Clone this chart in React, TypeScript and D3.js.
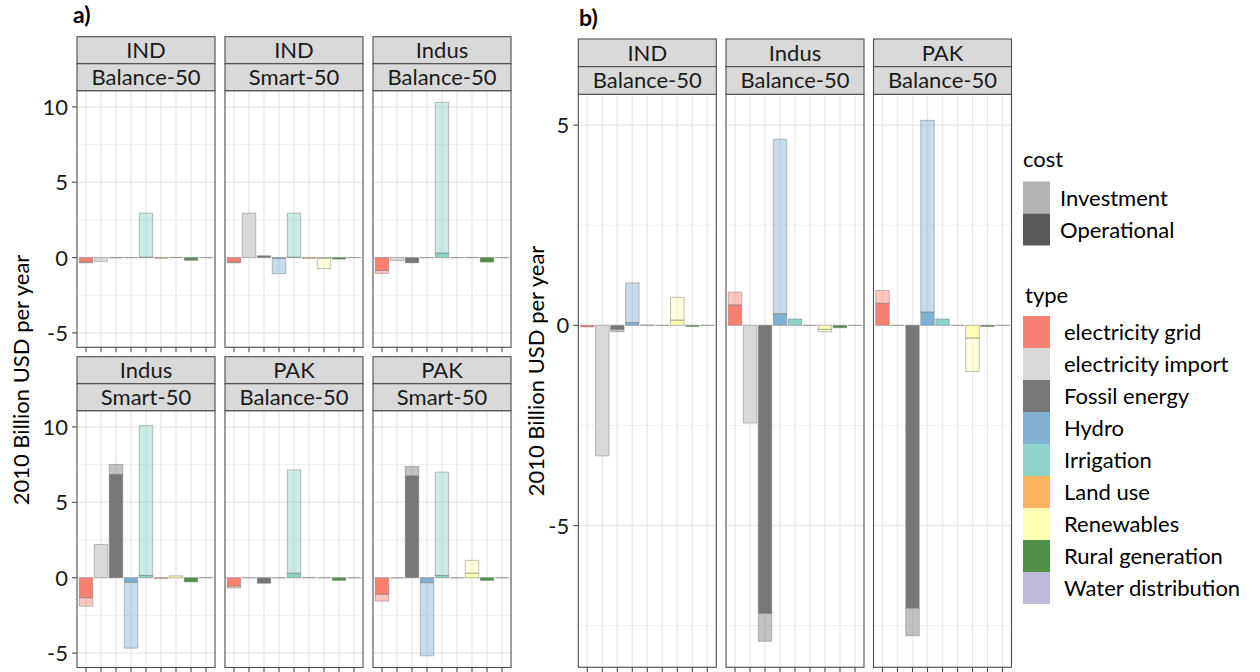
import React from "react";
import * as d3 from "d3";

const TYPES = ["electricity grid", "electricity import", "Fossil energy", "Hydro", "Irrigation", "Land use", "Renewables", "Rural generation", "Water distribution"];
const TYPE_COLORS = ["#FB8072", "#D9D9D9", "#777777", "#80B1D3", "#8DD3C7", "#FDB462", "#FFFFB3", "#4F9149", "#BEBADA"];
const COSTS = ["Investment", "Operational"];
const COST_ALPHA = [0.45, 1];

// Panel a facets
const A_REGIONS = ["IND", "IND", "Indus", "Indus", "PAK", "PAK"];
const A_SCENARIOS = ["Balance-50", "Smart-50", "Balance-50", "Smart-50", "Balance-50", "Smart-50"];
const A_OPERATIONAL = [
  [-0.30, -0.25, -0.02, 0, 0.02, -0.05, 0, -0.15, 0],
  [-0.30, 2.95, 0.12, -0.05, 0.02, -0.05, -0.05, -0.10, 0],
  [-0.85, -0.20, -0.35, 0, 0.30, 0, 0, -0.30, 0],
  [-1.33, 2.20, 6.85, -0.30, 0.15, -0.05, 0.12, -0.28, 0.02],
  [-0.55, 0, -0.37, 0, 0.30, 0.02, 0, -0.18, 0],
  [-1.10, -0.02, 6.75, -0.33, 0.15, 0, 0.30, -0.18, 0],
];
const A_INVESTMENT = [
  [-0.05, 0, 0, 0, 2.93, 0, 0, -0.03, 0],
  [-0.05, 0, 0, -1.02, 2.93, 0, -0.68, 0, 0],
  [-0.20, 0, 0, 0, 10.0, 0, 0, 0, 0],
  [-0.56, 0, 0.66, -4.37, 9.95, 0, 0, 0, 0],
  [-0.13, 0, 0, 0, 6.85, 0, 0, 0, 0],
  [-0.45, 0, 0.63, -4.85, 6.85, 0, 0.85, 0, 0],
];
const A_TICKS = [-5, 0, 5, 10];

// Panel b facets
const B_REGIONS = ["IND", "Indus", "PAK"];
const B_SCENARIOS = ["Balance-50", "Balance-50", "Balance-50"];
const B_OPERATIONAL = [
  [-0.04, -3.26, -0.10, 0.07, 0.01, 0, 0.13, -0.03, 0],
  [0.51, -2.44, -7.19, 0.29, 0.16, 0, -0.10, -0.06, 0],
  [0.55, 0, -7.06, 0.33, 0.16, 0, -0.32, -0.03, 0],
];
const B_INVESTMENT = [
  [0, 0, -0.06, 0.99, 0, 0, 0.57, 0, 0],
  [0.32, 0, -0.70, 4.36, 0, 0, -0.06, 0, 0],
  [0.32, 0, -0.69, 4.79, 0, 0, -0.83, 0, 0],
];
const B_TICKS = [-5, 0, 5];

const FONT = "Lato, 'Open Sans', sans-serif";
const TEXT = "#1a1a1a";
const BORDER = "#4d4d4d";
const GRID = "#ebebeb";

type Seg = { type: number; cost: number; y0: number; y1: number };

function stack(op: number[], inv: number[]): Seg[] {
  const segs: Seg[] = [];
  TYPES.forEach((_, i) => {
    let pos = 0, neg = 0;
    [[1, op[i]], [0, inv[i]]].forEach(([c, v]) => {
      if (v === 0 && c === 0) return;
      if (v >= 0) { segs.push({ type: i, cost: c, y0: pos, y1: pos + v }); pos += v; }
      else { segs.push({ type: i, cost: c, y0: neg, y1: neg + v }); neg += v; }
    });
  });
  return segs;
}

function domainOf(ops: number[][], invs: number[][]): [number, number] {
  let lo = 0, hi = 0;
  ops.forEach((op, f) => {
    stack(op, invs[f]).forEach(s => { lo = Math.min(lo, s.y0, s.y1); hi = Math.max(hi, s.y0, s.y1); });
  });
  const e = (hi - lo) * 0.05;
  return [lo - e, hi + e];
}

type FacetProps = {
  x: number; top: number; w: number; stripH: number; plotBottom: number;
  region: string; scenario: string; op: number[]; inv: number[];
  domain: [number, number]; ticks: number[]; showY: boolean;
};

function Facet({ x, top, w, stripH, plotBottom, region, scenario, op, inv, domain, ticks, showY }: FacetProps) {
  const plotTop = top + 2 * stripH;
  const xs = d3.scalePoint<string>().domain(TYPES).range([x, x + w]).padding(0.6);
  const step = xs.step();
  const ys = d3.scaleLinear().domain(domain).range([plotBottom, plotTop]);
  const minor = ticks.slice(0, -1).map((t, i) => (t + ticks[i + 1]) / 2);
  const lo = domain[0], hi = domain[1];
  if (ticks[0] - 2.5 > lo) minor.unshift(ticks[0] - 2.5);
  if (ticks[ticks.length - 1] + 2.5 < hi) minor.push(ticks[ticks.length - 1] + 2.5);
  const segs = stack(op, inv);
  const bw = step * 0.9;
  return (
    <g>
      <rect x={x} y={plotTop} width={w} height={plotBottom - plotTop} fill="#fff" />
      {minor.map(t => (
        <line key={"mn" + t} x1={x} x2={x + w} y1={ys(t)} y2={ys(t)} stroke={GRID} strokeWidth={0.8} />
      ))}
      {ticks.map(t => (
        <line key={"mj" + t} x1={x} x2={x + w} y1={ys(t)} y2={ys(t)} stroke={GRID} strokeWidth={1.5} />
      ))}
      {TYPES.map(t => (
        <line key={"vx" + t} x1={xs(t)} x2={xs(t)} y1={plotTop} y2={plotBottom} stroke={GRID} strokeWidth={1.5} />
      ))}
      {segs.map((s, i) => {
        const cx = xs(TYPES[s.type])!;
        const ya = ys(s.y0), yb = ys(s.y1);
        const yTop = Math.min(ya, yb), h = Math.abs(yb - ya);
        return (
          <path key={"b" + i}
            d={`M${cx - bw / 2},${yTop}h${bw}v${h}h${-bw}Z`}
            fill={TYPE_COLORS[s.type]} fillOpacity={COST_ALPHA[s.cost]}
            stroke="#7a7a7a" strokeOpacity={0.6} strokeWidth={0.8} />
        );
      })}
      <rect x={x} y={plotTop} width={w} height={plotBottom - plotTop} fill="none" stroke={BORDER} strokeWidth={1.1} />
      {[0, 1].map(k => (
        <g key={"s" + k}>
          <rect x={x} y={top + k * stripH} width={w} height={stripH} fill="#d9d9d9" stroke={BORDER} strokeWidth={1.1} />
          <text x={x + w / 2} y={top + k * stripH + stripH / 2 + 8} textAnchor="middle"
            fontFamily={FONT} fontSize={22} fill={TEXT}>{k === 0 ? region : scenario}</text>
        </g>
      ))}
      {TYPES.map(t => (
        <line key={"xt" + t} x1={xs(t)} x2={xs(t)} y1={plotBottom} y2={plotBottom + 5} stroke={BORDER} strokeWidth={1.1} />
      ))}
      {showY && ticks.map(t => (
        <g key={"yt" + t}>
          <line x1={x - 5} x2={x} y1={ys(t)} y2={ys(t)} stroke={BORDER} strokeWidth={1.1} />
          <text x={x - 9} y={ys(t) + 8} textAnchor="end" fontFamily={FONT} fontSize={22} fill={TEXT}>{t}</text>
        </g>
      ))}
    </g>
  );
}

export default function App() {
  const aDomain = domainOf(A_OPERATIONAL, A_INVESTMENT);
  const bDomain = domainOf(B_OPERATIONAL, B_INVESTMENT);
  const aCols = [77, 225, 373];
  const aRows = [{ top: 36.7, bottom: 347.3 }, { top: 356.7, bottom: 667.5 }];
  const bCols = [578.3, 726, 873.5];
  const W = 138;
  const stripH = 27.5;

  const legX = 1023;
  const keyW = 27, keyH = 32;
  const costKeyTop = 181.5;
  const typeKeyTop = 316;

  return (
    <svg width={1260} height={672} style={{ position: "absolute", left: 0, top: 0 }} fontFamily={FONT}>
      <rect width={1260} height={672} fill="#fff" />
      <text x={73} y={23} fontFamily={FONT} fontSize={23} fontWeight="bold" fill="#000">a)</text>
      <text x={579} y={26} fontFamily={FONT} fontSize={23} fontWeight="bold" fill="#000">b)</text>

      {A_REGIONS.map((r, i) => {
        const col = i % 3, row = Math.floor(i / 3);
        return (
          <Facet key={"a" + i} x={aCols[col]} top={aRows[row].top} w={W} stripH={stripH - 0.5}
            plotBottom={aRows[row].bottom} region={r} scenario={A_SCENARIOS[i]}
            op={A_OPERATIONAL[i]} inv={A_INVESTMENT[i]} domain={aDomain} ticks={A_TICKS} showY={col === 0} />
        );
      })}
      {B_REGIONS.map((r, i) => (
        <Facet key={"b" + i} x={bCols[i]} top={39} w={W} stripH={stripH + 0.15}
          plotBottom={667.3} region={r} scenario={B_SCENARIOS[i]}
          op={B_OPERATIONAL[i]} inv={B_INVESTMENT[i]} domain={bDomain} ticks={B_TICKS} showY={i === 0} />
      ))}

      <text transform="translate(29,380) rotate(-90)" textAnchor="middle" fontFamily={FONT} fontSize={22} fill="#000">2010 Billion USD per year</text>
      <text transform="translate(544,371) rotate(-90)" textAnchor="middle" fontFamily={FONT} fontSize={22} fill="#000">2010 Billion USD per year</text>

      <text x={legX} y={167} fontFamily={FONT} fontSize={22} fill="#000">cost</text>
      {COSTS.map((c, i) => (
        <g key={c}>
          <rect x={legX} y={costKeyTop + i * keyH} width={keyW} height={keyH} fill="#595959" fillOpacity={COST_ALPHA[i]} />
          <text x={1060} y={costKeyTop + i * keyH + keyH / 2 + 8} fontFamily={FONT} fontSize={22} fill="#000">{c}</text>
        </g>
      ))}
      <text x={legX + 2} y={303} fontFamily={FONT} fontSize={22} fill="#000">type</text>
      {TYPES.map((t, i) => (
        <g key={t}>
          <rect x={legX} y={typeKeyTop + i * keyH} width={keyW} height={keyH} fill={TYPE_COLORS[i]} />
          <text x={1064} y={typeKeyTop + i * keyH + keyH / 2 + 8} fontFamily={FONT} fontSize={22} fill="#000">{t}</text>
        </g>
      ))}
    </svg>
  );
}
